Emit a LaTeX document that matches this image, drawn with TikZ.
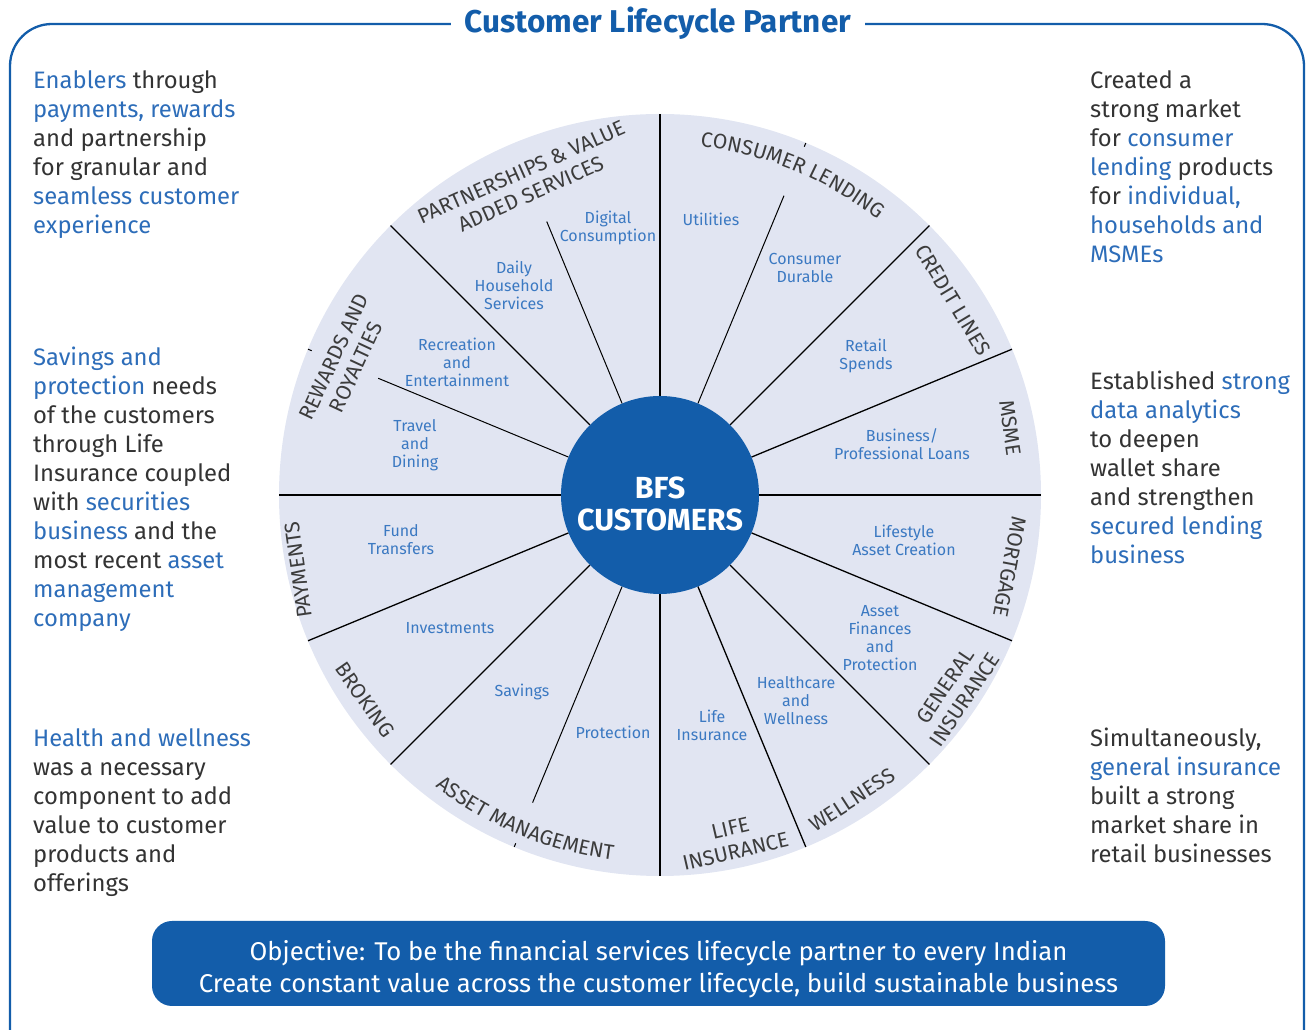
\documentclass[tikz,border=0pt]{standalone}
\usepackage{fontspec}
\setmainfont{Fira Sans}
\usetikzlibrary{decorations.text}

\definecolor{bfsblue}{HTML}{135DAA}
\definecolor{wheelfill}{HTML}{E1E5F2}
\definecolor{subblue}{HTML}{3B79C2}
\definecolor{sideblue}{HTML}{2D6DB9}
\definecolor{darktext}{HTML}{333333}
\definecolor{catgray}{HTML}{3C3C3C}

\newcommand{\bluetxt}[1]{\textcolor{sideblue}{#1}}
\newcommand{\catfont}{\fontsize{21}{24}\selectfont\color{catgray}}

\tikzset{
    sublabel/.style={align=center, text=subblue, inner sep=0pt, font=\fontsize{16}{18}\selectfont},
    catlabel/.style={align=center, text=catgray, inner sep=0pt, font=\fontsize{21}{24}\selectfont},
    sidetext/.style={align=left, text=darktext, anchor=north west, inner sep=0pt, font=\fontsize{23.8}{29}\selectfont},
    spoke/.style={line width=1.3pt, black},
    minorspoke/.style={line width=1pt, black},
    hub/.style={circle, fill=bfsblue, minimum size=198pt, inner sep=0pt},
}

\begin{document}
\begin{tikzpicture}[x=1pt, y=1pt]

    \useasboundingbox (0,0) rectangle (1306,1030);

    \draw[bfsblue, line width=2.3pt, rounded corners=42] (10,-60) -- (10,1006) -- (1304,1006) -- (1304,-60);
    \node[fill=white, inner xsep=14pt, inner ysep=2pt, anchor=base, text=bfsblue,
        font=\fontsize{31.5}{34}\selectfont\bfseries] (title) at (658,997) {Customer Lifecycle Partner};

    \begin{scope}[shift={(660,535)}]
        \fill[wheelfill] (0,0) circle (381);

        \draw[spoke] (90:99) -- (90:381);
        \draw[spoke] (45:99) -- (45:381);
        \draw[spoke] (22.5:99) -- (22.5:381);
        \draw[spoke] (0:99) -- (0:381);
        \draw[spoke] (-22.5:99) -- (-22.5:381);
        \draw[spoke] (-45:99) -- (-45:381);
        \draw[spoke] (-67.5:99) -- (-67.5:381);
        \draw[spoke] (-90:99) -- (-90:381);
        \draw[spoke] (-135:99) -- (-135:381);
        \draw[spoke] (-157.5:99) -- (-157.5:381);
        \draw[spoke] (180:99) -- (180:381);
        \draw[spoke] (135:99) -- (135:381);
        \draw[minorspoke] (112.5:99) -- (112.5:296);
        \draw[minorspoke] (67.5:99) -- (67.5:324);
        \draw[minorspoke] (157.5:99) -- (157.5:305);
        \draw[minorspoke] (-112.5:99) -- (-112.5:333);
        \draw[minorspoke] (67.5:377) -- (67.5:381);
        \draw[minorspoke] (157.5:377) -- (157.5:381);
        \draw[minorspoke] (-112.5:377) -- (-112.5:381);

        \node[hub] (bfs) at (0,0) {};
        \node[align=center, text=white, inner sep=0pt, font=\fontsize{30.5}{32}\selectfont\bfseries] (bfslabel) at (0,-9) {BFS\\CUSTOMERS};

        \node[sublabel] (digital) at (-52,267) {Digital\\Consumption};
        \node[sublabel] (utilities) at (51,276) {Utilities};
        \node[sublabel] (household) at (-146,210) {Daily\\Household\\Services};
        \node[sublabel] (durable) at (145,227) {Consumer\\Durable};
        \node[sublabel] (recreation) at (-203,133) {Recreation\\and\\Entertainment};
        \node[sublabel] (retail) at (206,139) {Retail\\Spends};
        \node[sublabel] (travel) at (-245,50) {Travel\\and\\Dining};
        \node[sublabel] (business) at (242,51) {Business/\\Professional Loans};
        \node[sublabel] (fund) at (-259,-45) {Fund\\Transfers};
        \node[sublabel] (lifestyle) at (244,-45) {Lifestyle\\Asset Creation};
        \node[sublabel] (investments) at (-210,-133) {Investments};
        \node[sublabel] (assetfin) at (220,-143) {Asset\\Finances\\and\\Protection};
        \node[sublabel] (savings) at (-138,-197) {Savings};
        \node[sublabel] (healthcare) at (136,-206) {Healthcare\\and\\Wellness};
        \node[sublabel] (protection) at (-47,-237) {Protection};
        \node[sublabel] (lifeins) at (52,-230) {Life\\Insurance};

        \node[catlabel, rotate=24] (partners) at (-134,312) {PARTNERSHIPS \& VALUE\\ADDED SERVICES};
        \path[decorate, decoration={text along path, text align=center, text={|\catfont|CONSUMER LENDING}}]
            (90:351) arc[start angle=90, end angle=45, radius=351];
        \node[catlabel, rotate=-59] (credit) at (293,195) {CREDIT LINES};
        \node[catlabel, rotate=-82] (msme) at (350,67) {MSME};
        \node[catlabel, rotate=-101] (mortgage) at (350,-72) {MORTGAGE};
        \node[catlabel, rotate=56] (general) at (295,-198) {GENERAL\\INSURANCE};
        \node[catlabel, rotate=33] (wellness) at (192,-305) {WELLNESS};
        \node[catlabel, rotate=13] (lifecat) at (73,-345) {LIFE\\INSURANCE};
        \path[decorate, decoration={text along path, text align=center, text={|\catfont|ASSET MANAGEMENT}}]
            (-135:368) arc[start angle=-135, end angle=-90, radius=368];
        \node[catlabel, rotate=-55] (broking) at (-295,-205) {BROKING};
        \node[catlabel, rotate=98] (payments) at (-362,-75) {PAYMENTS};
        \node[catlabel, rotate=65] (rewards) at (-315,133) {REWARDS AND\\ROYALTIES};
    \end{scope}

    \node[sidetext] (enablers) at (33,960) {\bluetxt{Enablers} through\\
        \bluetxt{payments, rewards}\\
        and partnership\\
        for granular and\\
        \bluetxt{seamless customer}\\
        \bluetxt{experience}};
    \node[sidetext] (savingsnote) at (33,683) {\bluetxt{Savings and}\\
        \bluetxt{protection} needs\\
        of the customers\\
        through Life\\
        Insurance coupled\\
        with \bluetxt{securities}\\
        \bluetxt{business} and the\\
        most recent \bluetxt{asset}\\
        \bluetxt{management}\\
        \bluetxt{company}};
    \node[sidetext] (healthnote) at (33,302) {\bluetxt{Health and wellness}\\
        was a necessary\\
        component to add\\
        value to customer\\
        products and\\
        offerings};
    \node[sidetext] (creatednote) at (1090,960) {Created a\\
        strong market\\
        for \bluetxt{consumer}\\
        \bluetxt{lending} products\\
        for \bluetxt{individual,}\\
        \bluetxt{households and}\\
        \bluetxt{MSMEs}};
    \node[sidetext] (analyticsnote) at (1090,659) {Established \bluetxt{strong}\\
        \bluetxt{data analytics}\\
        to deepen\\
        wallet share\\
        and strengthen\\
        \bluetxt{secured lending}\\
        \bluetxt{business}};
    \node[sidetext] (insurancenote) at (1090,302) {Simultaneously,\\
        \bluetxt{general insurance}\\
        built a strong\\
        market share in\\
        retail businesses};

    \node[fill=bfsblue, rounded corners=20, minimum width=1013pt, minimum height=85pt] (objective) at (658.5,66.5) {};
    \node[text=white, align=center, inner sep=0pt, font=\fontsize{25.7}{32}\selectfont] (objectivetext) at (658.5,61)
        {Objective: To be the financial services lifecycle partner to every Indian\\
        Create constant value across the customer lifecycle, build sustainable business};

\end{tikzpicture}
\end{document}
